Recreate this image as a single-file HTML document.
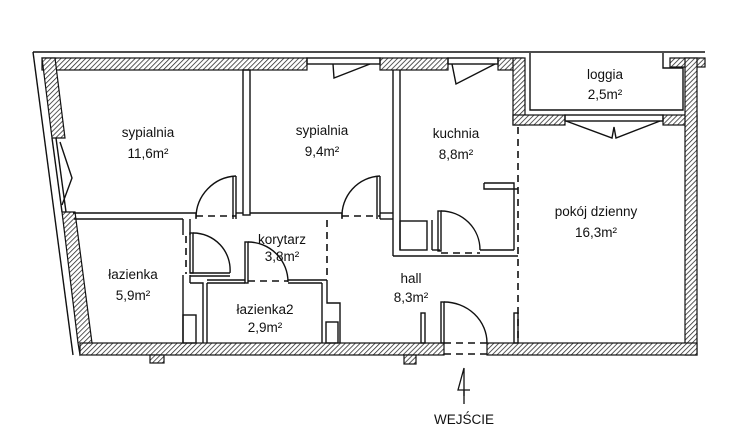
<!DOCTYPE html>
<html><head><meta charset="utf-8"><style>
html,body{margin:0;padding:0;background:#fff;}
svg{display:block;}
text{font-family:"Liberation Sans",sans-serif;font-size:13.5px;fill:#111;text-anchor:middle;}
</style></head><body>
<svg width="746" height="429" viewBox="0 0 746 429" xmlns="http://www.w3.org/2000/svg">
<defs>
<pattern id="h" width="3.5" height="3.5" patternUnits="userSpaceOnUse" patternTransform="rotate(45)">
<rect width="4" height="4" fill="#fff"/><line x1="0" y1="0" x2="0" y2="4" stroke="#222" stroke-width="1.5"/>
</pattern>
</defs>
<g stroke="#111" stroke-width="1.2" fill="url(#h)">
<rect x="42" y="58" width="265" height="12"/>
<rect x="380" y="58" width="68" height="12"/>
<rect x="498" y="58" width="25" height="12"/>
<rect x="513" y="58" width="12" height="67"/>
<rect x="513" y="115" width="52" height="10"/>
<rect x="663" y="115" width="34" height="10"/>
<rect x="670" y="58" width="35" height="9"/>
<rect x="685" y="58" width="12" height="297"/>
<polygon points="42,58 55,58 65,138 52,138"/>
<polygon points="62,212 75,212 92,343 80,355 78,343"/>
<rect x="80" y="343" width="364" height="12"/>
<rect x="487" y="343" width="210" height="12"/>
<rect x="150" y="355" width="14" height="8"/>
<rect x="404" y="355" width="12" height="9"/>
</g>
<g stroke="#111" stroke-width="1.4" fill="none">
<line x1="33" y1="52" x2="307" y2="52"/>
<line x1="380" y1="52" x2="705" y2="52"/>
<line x1="33" y1="52" x2="73" y2="355"/>
<line x1="52" y1="138" x2="62" y2="212"/>
<line x1="56" y1="138" x2="66" y2="212"/>
<polyline points="60,142 72,178 62,205"/>
<line x1="307" y1="52" x2="380" y2="52"/>
<rect x="307" y="58" width="73" height="6"/>
<polyline points="333,64 334,78 370,64"/>
<rect x="448" y="58" width="50" height="6"/>
<polyline points="452,64 456,84 495,64"/>
<polyline points="530,53 530,110 683,110 683,68 663,68 663,53"/>
<rect x="565" y="115" width="98" height="6"/>
<polyline points="566,121 612,138 614,127 616,138 660,121"/>
<rect x="243" y="70" width="7" height="145"/>
<line x1="73" y1="213" x2="196" y2="213"/>
<line x1="74" y1="219" x2="183" y2="219"/>
<line x1="236" y1="213" x2="243" y2="213"/>
<line x1="250" y1="213" x2="342" y2="213"/>
<line x1="380" y1="213" x2="393" y2="213"/>
<line x1="380" y1="219" x2="393" y2="219"/>
<line x1="236" y1="176" x2="236" y2="219"/><line x1="233" y1="176" x2="233" y2="219"/>
<path d="M236,176 A42,42 0 0 0 196,218"/>
<line x1="196" y1="213" x2="196" y2="219"/>
<line x1="380" y1="176" x2="380" y2="219"/><line x1="377" y1="176" x2="377" y2="219"/>
<path d="M380,176 A40,40 0 0 0 342,218"/>
<line x1="342" y1="213" x2="342" y2="219"/>
<line x1="393" y1="70" x2="393" y2="256"/>
<line x1="400" y1="70" x2="400" y2="250"/>
<rect x="400" y="221" width="27" height="29"/>
<line x1="393" y1="256" x2="518" y2="256"/>
<line x1="432" y1="250" x2="440" y2="250"/>
<line x1="480" y1="250" x2="514" y2="250"/>
<line x1="432" y1="220" x2="432" y2="250"/>
<rect x="438" y="211" width="3" height="40"/>
<path d="M441,211 A39,39 0 0 1 480,250"/>
<polyline points="484,183 514,183 514,250"/>
<polyline points="484,183 484,189 518,189"/>
<line x1="183" y1="219" x2="183" y2="235"/>
<line x1="190" y1="219" x2="190" y2="235"/>
<line x1="183" y1="275" x2="183" y2="343"/>
<line x1="190" y1="275" x2="190" y2="283"/>
<rect x="190" y="233" width="3" height="40"/>
<path d="M193,233 A37,37 0 0 1 230,273"/>
<line x1="190" y1="273" x2="230" y2="273"/>
<line x1="190" y1="276" x2="230" y2="276"/>
<polyline points="190,283 203,283 203,343"/>
<rect x="183" y="315" width="13" height="28"/>
<line x1="207" y1="283" x2="207" y2="343"/>
<line x1="207" y1="283" x2="245" y2="283"/>
<line x1="207" y1="280" x2="245" y2="280"/>
<line x1="288" y1="280" x2="327" y2="280"/>
<line x1="288" y1="283" x2="322" y2="283"/>
<line x1="322" y1="283" x2="322" y2="343"/>
<polyline points="327,280 327,303 340,303 340,343"/>
<rect x="326" y="322" width="12" height="21"/>
<rect x="245" y="242" width="3" height="41"/>
<path d="M248,242 A40,40 0 0 1 288,282"/>
<rect x="421" y="313" width="4" height="30"/>
<rect x="514" y="313" width="4" height="30"/>
<rect x="441" y="302" width="3" height="41"/>
<path d="M444,302 A43,41 0 0 1 487,343"/>
</g>
<g stroke="#111" stroke-width="1.6" fill="none" stroke-dasharray="7,5">
<line x1="196" y1="216" x2="236" y2="216"/>
<line x1="342" y1="216" x2="380" y2="216"/>
<line x1="441" y1="253" x2="480" y2="253"/>
<line x1="186" y1="236" x2="186" y2="274"/>
<line x1="248" y1="281" x2="288" y2="281"/>
<line x1="327" y1="220" x2="327" y2="278"/>
<line x1="518" y1="127" x2="518" y2="343"/>
<line x1="444" y1="343" x2="487" y2="343"/>
<line x1="444" y1="354" x2="487" y2="354"/>
</g>
<g stroke="#111" stroke-width="1.3" fill="none">
<polyline points="464,396 464,368 458,390 470,390"/>
<line x1="464" y1="390" x2="464" y2="404"/>
</g>
<text x="148" y="137">sypialnia</text><text x="148" y="158">11,6m²</text>
<text x="322" y="135">sypialnia</text><text x="322" y="156">9,4m²</text>
<text x="456" y="138">kuchnia</text><text x="456" y="159">8,8m²</text>
<text x="605" y="79">loggia</text><text x="605" y="99">2,5m²</text>
<text x="596" y="216">pokój dzienny</text><text x="596" y="237">16,3m²</text>
<text x="282" y="244">korytarz</text><text x="282" y="261">3,8m²</text>
<text x="133" y="279">łazienka</text><text x="133" y="300">5,9m²</text>
<text x="265" y="314">łazienka2</text><text x="265" y="332">2,9m²</text>
<text x="411" y="283">hall</text><text x="411" y="302">8,3m²</text>
<text x="464" y="424">WEJŚCIE</text>
</svg>
</body></html>
